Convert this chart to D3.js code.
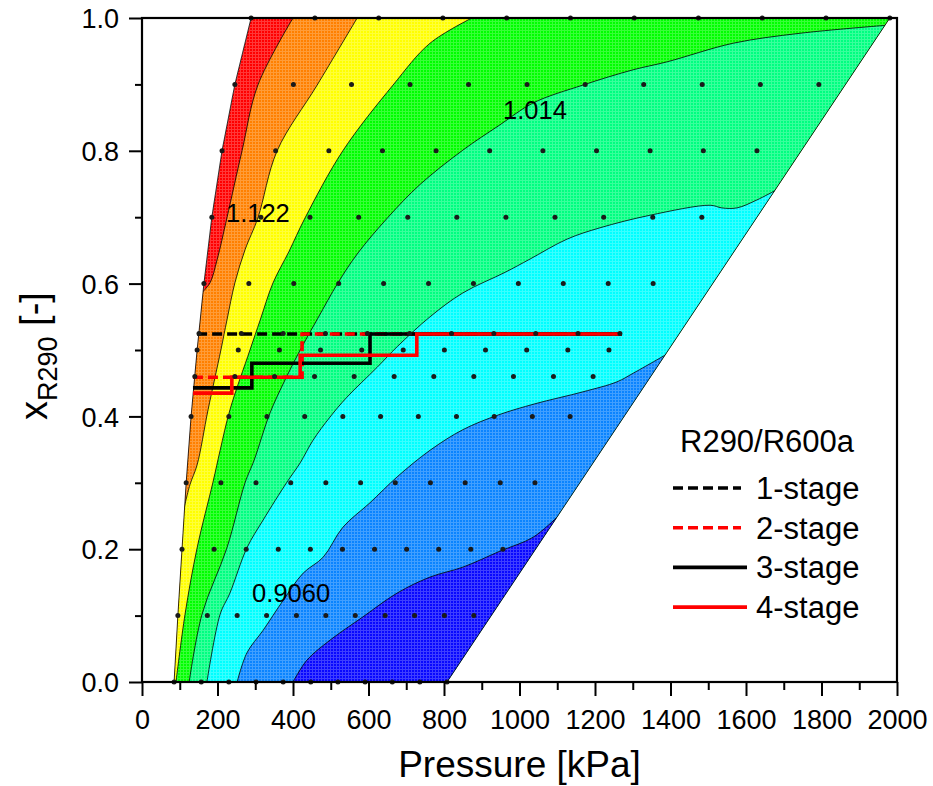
<!DOCTYPE html>
<html>
<head>
<meta charset="utf-8">
<script src="https://cdn.jsdelivr.net/npm/d3@7"></script>
<style>
  html, body { margin: 0; padding: 0; background: #fff; }
  svg { display: block; font-family: "Liberation Sans", Arial, Helvetica, sans-serif; }
</style>
</head>
<body>
<svg id="chart" width="933" height="786"></svg>
<script>
// ---------------- DATA ----------------
const xTicks = [0, 200, 400, 600, 800, 1000, 1200, 1400, 1600, 1800, 2000];
const yTicks = [0.0, 0.2, 0.4, 0.6, 0.8, 1.0];

// sample points (composition rows, pressures in kPa)
const dotRows = [0.0, 0.1, 0.2, 0.3, 0.4, 0.46, 0.5, 0.525, 0.6, 0.7, 0.8, 0.9, 1.0];
const dotPressures = [
  [85, 157, 230, 302, 374, 447, 519, 591, 663, 736, 808],
  [95, 173, 252, 330, 409, 487, 565, 644, 722, 801, 879],
  [106, 191, 276, 361, 446, 531, 616, 701, 786, 871, 956],
  [117, 209, 302, 394, 487, 579, 671, 764, 856, 949, 1041],
  [130, 230, 331, 431, 532, 632, 732, 833, 933, 1034, 1134],
  [140, 246, 351, 457, 562, 668, 773, 879, 984, 1090, 1195],
  [146, 255, 364, 473, 582, 692, 801, 910, 1019, 1128, 1237],
  [151, 263, 374, 486, 597, 709, 820, 932, 1043, 1155, 1266],
  [164, 283, 402, 521, 640, 759, 878, 997, 1116, 1235, 1354],
  [185, 315, 445, 574, 704, 834, 964, 1094, 1223, 1353, 1483],
  [212, 354, 495, 637, 779, 921, 1062, 1204, 1346, 1487, 1629],
  [246, 401, 555, 710, 865, 1020, 1174, 1329, 1484, 1638, 1793],
  [289, 458, 627, 797, 966, 1135, 1304, 1474, 1643, 1812, 1981]
];

// contour levels and fill colours (highest band first)
const levels = [1.176, 1.122, 1.068, 1.014, 0.960, 0.906, 0.852];
const bandColors = ["#FF0000", "#FF8000", "#FFFF00", "#00FF00", "#00FF80", "#00FFFF", "#0A84FF", "#0808FF"];

// contour lines [pressure kPa, x_R290]
const c1176 = [[158,0.586],[180,0.601],[199,0.636],[225,0.699],[265,0.800],[307,0.899],[400,1.0]];
const c1122 = [[109,0.256],[127,0.297],[146,0.327],[175,0.410],[209,0.500],[225,0.545],[246,0.601],[273,0.651],[307,0.699],[358,0.800],[464,0.899],[570,1.0]];
const c1068 = [[90,0],[114,0.102],[146,0.202],[188,0.301],[207,0.349],[233,0.410],[286,0.500],[313,0.545],[347,0.601],[389,0.648],[432,0.699],[532,0.800],[665,0.899],[763,0.962],[874,1.0]];
const c1014 = [[125,0],[159,0.102],[225,0.202],[273,0.300],[297,0.334],[339,0.405],[379,0.455],[419,0.500],[466,0.548],[519,0.601],[572,0.646],[652,0.700],[736,0.749],[850,0.801],[948,0.839],[1036,0.872],[1168,0.899],[1301,0.922],[1391,0.934],[1566,0.962],[1743,0.977],[1971,0.989]];
const c0960 = [[172,0],[207,0.102],[233,0.134],[278,0.202],[321,0.244],[384,0.301],[419,0.330],[453,0.364],[498,0.399],[543,0.429],[623,0.474],[676,0.505],[763,0.550],[850,0.586],[962,0.617],[1028,0.637],[1126,0.667],[1213,0.684],[1346,0.703],[1505,0.718],[1536,0.714],[1576,0.714],[1629,0.726],[1680,0.741]];
const c0906 = [[252,0],[278,0.044],[321,0.078],[374,0.123],[427,0.164],[480,0.188],[532,0.233],[604,0.270],[676,0.309],[763,0.349],[850,0.380],[943,0.402],[1041,0.419],[1168,0.437],[1258,0.452],[1301,0.465],[1391,0.494]];
const c0852 = [[400,0],[437,0.033],[498,0.063],[585,0.098],[676,0.134],[763,0.158],[850,0.173],[948,0.197],[1036,0.218],[1099,0.248]];
const contourLines = [c1176, c1122, c1068, c1014, c0960, c0906, c0852];

// contour labels [pressure, x, text]
const contourLabels = [[307, 0.707, "1.122"], [1041, 0.862, "1.014"], [395, 0.134, "0.9060"]];

// compression paths: steps [start pressure, composition], last point = end
const stage1 = [[146,0.524],[1271,0.524]];
const stage2 = [[135,0.459],[424,0.524],[1271,0.524]];
const stage3 = [[135,0.443],[291,0.480],[604,0.524],[1271,0.524]];
const stage4 = [[135,0.435],[238,0.459],[419,0.492],[728,0.524],[1271,0.524]];
const legendTitle = "R290/R600a";
const legendNames = ["1-stage", "2-stage", "3-stage", "4-stage"];

// ---------------- CHART ----------------
const svg = d3.select("#chart");
const L = 142, R = 897, T = 18, B = 682;
const x = d3.scaleLinear([0, 2000], [L, R]);
const y = d3.scaleLinear([0, 1], [B, T]);

const defs = svg.append("defs");
const pat = defs.append("pattern").attr("id", "mesh").attr("patternUnits", "userSpaceOnUse")
  .attr("x", 0).attr("y", 0).attr("width", 3).attr("height", 3);
pat.append("rect").attr("x", 0).attr("y", 0).attr("width", 3).attr("height", 1).attr("fill", "#fff").attr("fill-opacity", 0.22);
pat.append("rect").attr("x", 0).attr("y", 1).attr("width", 1).attr("height", 2).attr("fill", "#fff").attr("fill-opacity", 0.22);

// hull of sample points
const dots = [];
dotRows.forEach((r, i) => dotPressures[i].forEach(p => dots.push([p, r])));
const hull = d3.polygonHull(dots.map(d => [x(d[0]), y(d[1])]));
defs.append("clipPath").attr("id", "hullClip").append("path")
  .attr("d", "M" + hull.join("L") + "Z");

const plot = svg.append("g").attr("clip-path", "url(#hullClip)");
plot.append("path").attr("d", "M" + hull.join("L") + "Z").attr("fill", bandColors[0]);

const curve = d3.line().x(d => x(d[0])).y(d => y(d[1])).curve(d3.curveCatmullRom.alpha(0.5));
function closure(pts) {
  const s = pts[0], e = pts[pts.length - 1];
  const c = [];
  if (e[1] >= 0.999) { c.push([e[0], 1.5], [3000, 1.5]); } else { c.push([3000, e[1]]); }
  c.push([3000, -0.5]);
  if (s[1] <= 0.001) { c.push([s[0], -0.5]); } else { c.push([-200, -0.5], [-200, s[1]]); }
  return c.map(p => "L" + x(p[0]) + "," + y(p[1])).join("") + "Z";
}
contourLines.forEach((pts, i) => {
  plot.append("path").attr("d", curve(pts) + closure(pts)).attr("fill", bandColors[i + 1]);
});
plot.append("rect").attr("x", L).attr("y", T).attr("width", R - L).attr("height", B - T).attr("fill", "url(#mesh)");
contourLines.forEach(pts => {
  plot.append("path").attr("d", curve(pts)).attr("fill", "none").attr("stroke", "#000").attr("stroke-width", 0.8);
});
svg.append("path").attr("d", "M" + hull.join("L") + "Z").attr("fill", "none").attr("stroke", "#000").attr("stroke-width", 0.8);

// stage lines
const step = d3.line().x(d => x(d[0])).y(d => y(d[1])).curve(d3.curveStepAfter);
const stages = [
  {data: stage1, color: "#000", dash: "10,5"},
  {data: stage2, color: "#FF0000", dash: "10,5"},
  {data: stage3, color: "#000", dash: null},
  {data: stage4, color: "#FF0000", dash: null}
];
stages.forEach(s => {
  svg.append("path").attr("d", step(s.data)).attr("fill", "none")
    .attr("stroke", s.color).attr("stroke-width", 3.6)
    .attr("stroke-dasharray", s.dash);
});

// sample dots
svg.append("g").selectAll("circle").data(dots).join("circle")
  .attr("cx", d => x(d[0])).attr("cy", d => y(d[1])).attr("r", 2.5).attr("fill", "#1a1a1a");

// contour labels
svg.append("g").selectAll("text").data(contourLabels).join("text")
  .attr("x", d => x(d[0])).attr("y", d => y(d[1])).attr("dy", "0.36em")
  .attr("text-anchor", "middle").attr("font-size", 25.5).attr("fill", "#000").text(d => d[2]);

// axes
const minorX = d3.range(100, 2000, 200);
const minorY = [0.1, 0.3, 0.5, 0.7, 0.9];
const gx = svg.append("g").attr("transform", `translate(0,${B})`)
  .call(d3.axisBottom(x).tickValues(xTicks).tickSize(14).tickSizeOuter(0).tickFormat(d3.format("d")));
gx.selectAll("text").attr("y", 47).attr("dy", null).attr("font-size", 27).attr("fill", "#000")
  .attr("font-family", "'Liberation Sans', Arial, sans-serif");
const gx2 = svg.append("g").attr("transform", `translate(0,${B})`)
  .call(d3.axisBottom(x).tickValues(minorX).tickSize(8).tickSizeOuter(0).tickFormat(""));
const gy = svg.append("g").attr("transform", `translate(${L},0)`)
  .call(d3.axisLeft(y).tickValues(yTicks).tickSize(13).tickSizeOuter(0).tickPadding(10).tickFormat(d3.format(".1f")));
gy.selectAll("text").attr("font-size", 27).attr("fill", "#000").attr("dy", "0.36em")
  .attr("font-family", "'Liberation Sans', Arial, sans-serif");
const gy2 = svg.append("g").attr("transform", `translate(${L},0)`)
  .call(d3.axisLeft(y).tickValues(minorY).tickSize(7).tickSizeOuter(0).tickFormat(""));
[gx, gx2, gy, gy2].forEach(g => {
  g.select(".domain").remove();
  g.selectAll("line").attr("stroke", "#000").attr("stroke-width", 2);
});
svg.append("rect").attr("x", L).attr("y", T).attr("width", R - L).attr("height", B - T)
  .attr("fill", "none").attr("stroke", "#000").attr("stroke-width", 2.2);

// axis titles
svg.append("text").attr("x", (L + R) / 2).attr("y", 777).attr("text-anchor", "middle")
  .attr("font-size", 37).attr("fill", "#000").text("Pressure [kPa]");
const yt = svg.append("text").attr("transform", "translate(47,420) rotate(-90)")
  .attr("font-size", 38).attr("fill", "#000");
yt.append("tspan").text("x");
yt.append("tspan").attr("font-size", 27).attr("dy", 10).text("R290");
yt.append("tspan").attr("dy", -10).text(" [-]");

// legend
const lg = svg.append("g");
lg.append("text").attr("x", 680).attr("y", 452).attr("font-size", 31).attr("fill", "#000").text(legendTitle);
stages.forEach((s, i) => {
  const yy = 488 + i * 39.7;
  lg.append("line").attr("x1", 673).attr("x2", s.dash ? 741 : 747).attr("y1", yy).attr("y2", yy)
    .attr("stroke", s.color).attr("stroke-width", 3.6).attr("stroke-dasharray", s.dash);
  lg.append("text").attr("x", 756).attr("y", yy + 11).attr("font-size", 31).attr("fill", "#000").text(legendNames[i]);
});
</script>
</body>
</html>
